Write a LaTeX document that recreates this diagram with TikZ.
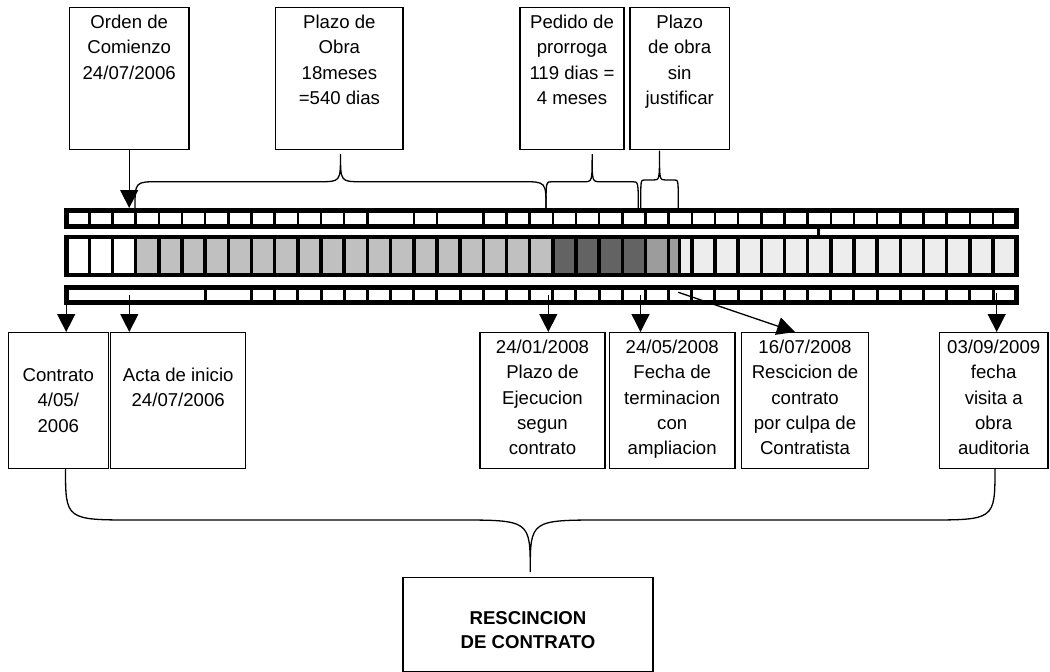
\documentclass[tikz,border=0pt]{standalone}
\usepackage{fontspec}
\setmainfont{Liberation Sans}
\usepackage{tikz}
\usetikzlibrary{arrows.meta,positioning}
\usepackage{xcolor}

\definecolor{lightcell}{HTML}{C0C0C0}
\definecolor{darkcell}{HTML}{636363}
\definecolor{stripecell}{HTML}{9C9C9C}
\definecolor{dotcell}{HTML}{EDEDED}

% curly brace: left x, right x, end y, middle y, tip y, corner r, tip r
\newcommand{\curly}[7]{%
  \draw[bracelines] (#1,#3) .. controls (#1,#4) .. ({#1+#6},#4)
    -- ({(#1+#2)/2-#7},#4) .. controls ({(#1+#2)/2},#4) .. ({(#1+#2)/2},#5)
    .. controls ({(#1+#2)/2},#4) .. ({(#1+#2)/2+#7},#4)
    -- ({#2-#6},#4) .. controls (#2,#4) .. (#2,#3);}

\begin{document}
\begin{tikzpicture} [
        x = 1pt, y = -1pt,
        evbox/.style = { draw, line width = 1.3pt, align = center, anchor = north, inner sep = 0pt,
                         font = \fontsize{18.6pt}{25.3pt}\selectfont },
        topbox/.style 2 args = { evbox, text height = #1, text depth = #2 },
        datebox/.style = { evbox, text height = 122.2pt, text depth = 13.8pt },
        arr/.style = { line width = 1.3pt, -{Triangle[length=18pt, width=18pt]} },
        bracelines/.style = { line width = 1.3pt }
        ]
        \useasboundingbox (0,0) rectangle (1050,672);

        % boxes on top
        \node [topbox = {71.6pt}{70.4pt}, minimum width = 119.7pt] (orden) at (129.2,7) {Orden de\\Comienzo\\24/07/2006};
        \node [topbox = {96.9pt}{45.1pt}, minimum width = 127.3pt] (plazo) at (339.4,7) {Plazo de\\Obra\\18meses\\=540 dias};
        \node [topbox = {96.9pt}{45.1pt}, minimum width = 104pt] (pedido) at (572,7) {Pedido de\\prorroga\\119 dias =\\4 meses};
        \node [topbox = {96.9pt}{45.1pt}, minimum width = 99.3pt] (sinjust) at (679.7,7) {Plazo\\de obra\\sin\\justificar};

        % middle bar, one cell a month
        \foreach \m in {3,...,20}
          \fill [lightcell] ({66.2+23.17*\m},237) rectangle ++(23.17,38);
        \foreach \m in {21,...,24}
          \fill [darkcell] ({66.2+23.17*\m},237) rectangle ++(23.17,38);
        \fill [stripecell] ({66.2+23.17*25},237) rectangle (679.3,275);
        \fill [dotcell] (679.3,237) rectangle (1016.3,275);
        \foreach \m in {1,...,40}
          \draw [line width = 3.5pt] ({66.2+23.17*\m},237) -- ++(0,38);
        \draw [line width = 3pt] (679.3,237) -- (679.3,275);
        \draw [line width = 4.7pt] (66.2,237) rectangle (1016.3,275);

        % top bar
        \foreach \m in {1,...,13,15,16,18,19,...,40}
          \draw [line width = 2.5pt] ({66.2+23.17*\m},210.7) -- ++(0,15.6);
        \draw [line width = 5pt] (66.2,210.7) rectangle (1016.3,226.3);
        \draw [line width = 2.7pt] (818.3,226.3) -- (818.3,237);

        % bottom bar
        \foreach \m in {6,8,9,...,40}
          \draw [line width = 3pt] ({66.2+23.17*\m},287.5) -- ++(0,14.5);
        \draw [line width = 5pt] (66.2,287.5) rectangle (1016.3,302);

        % braces on top
        \curly{135}{546}{208}{181.7}{154}{24}{21}
        \curly{546}{638.3}{208}{181.7}{154}{6}{8}
        \curly{640.7}{678.3}{208}{180}{150.7}{3.5}{6}

        \coordinate (tbar) at (0,208);
        \draw [arr] (orden.south) -- (orden.south |- tbar);

        % boxes below
        \node [topbox = {99.6pt}{36.4pt}, minimum width = 100pt] (contrato) at (58.3,332) {Contrato\\4/05/\\2006};
        \node [topbox = {74.3pt}{61.7pt}, minimum width = 135pt] (acta) at (178.2,332) {Acta de inicio\\24/07/2006};
        \node [datebox, minimum width = 125pt] (ejec) at (542.5,332) {24/01/2008\\Plazo de\\Ejecucion\\segun\\contrato};
        \node [datebox, minimum width = 125.7pt] (termin) at (672.2,332) {24/05/2008\\Fecha de\\terminacion\\con\\ampliacion};
        \node [datebox, minimum width = 126.6pt] (resc) at (805,332) {16/07/2008\\Rescicion de\\contrato\\por culpa de\\Contratista};
        \node [datebox, minimum width = 108.7pt] (visita) at (993.7,332) {03/09/2009\\fecha\\visita a\\obra\\auditoria};

        \coordinate (contratoPt) at (66.2,304);
        \coordinate (actaPt) at (129.3,295);
        \coordinate (ejecPt) at (548.3,295);
        \coordinate (terminPt) at (640.5,295);
        \coordinate (rescPt) at (678.3,292.3);
        \coordinate (visitaPt) at (996.7,293);
        \draw [arr] (contratoPt) -- (contratoPt |- contrato.north);
        \draw [arr] (actaPt) -- (actaPt |- acta.north);
        \draw [arr] (ejecPt) -- (ejecPt |- ejec.north);
        \draw [arr] (terminPt) -- (terminPt |- termin.north);
        \draw [arr] (rescPt) -- ([xshift=-10pt]resc.north);
        \draw [arr] (visitaPt) -- (visitaPt |- visita.north);

        % brace down to the result
        \curly{65.5}{995}{468}{520}{572}{70}{74}
        \node [topbox = {70.4pt}{23.6pt}, minimum width = 250pt,
               font = \fontsize{18.6pt}{24pt}\selectfont\bfseries] (final) at (528,577) {RESCINCION\\DE CONTRATO};
\end{tikzpicture}
\end{document}
